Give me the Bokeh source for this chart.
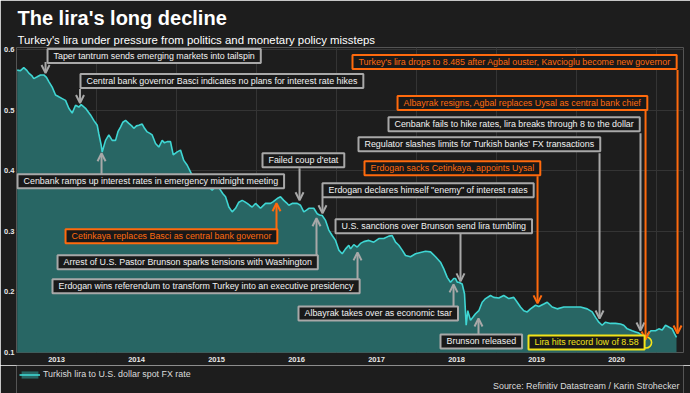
from bokeh.plotting import figure
from bokeh.layouts import column
from bokeh.models import (Range1d, FixedTicker, Label, Arrow, OpenHead, Title,
                          Legend, LegendItem)
from bokeh.embed import file_html
from bokeh.resources import INLINE

# ---------------- data ----------------
# decimal year, value of one Turkish lira in U.S. dollars
dates = [
    2013.009, 2013.050, 2013.091, 2013.125, 2013.154, 2013.190, 2013.216, 2013.259, 2013.300, 2013.341,
    2013.375, 2013.404, 2013.446, 2013.488, 2013.529, 2013.571, 2013.613, 2013.654, 2013.696, 2013.738,
    2013.779, 2013.809, 2013.863, 2013.925, 2013.966, 2014.009, 2014.029, 2014.059, 2014.071, 2014.113,
    2014.154, 2014.196, 2014.238, 2014.270, 2014.300, 2014.330, 2014.363, 2014.404, 2014.440, 2014.466,
    2014.500, 2014.529, 2014.571, 2014.600, 2014.634, 2014.663, 2014.696, 2014.738, 2014.779, 2014.821,
    2014.850, 2014.884, 2014.925, 2014.959, 2015.009, 2015.050, 2015.091, 2015.134, 2015.175, 2015.216,
    2015.250, 2015.279, 2015.321, 2015.350, 2015.384, 2015.413, 2015.446, 2015.475, 2015.509, 2015.550,
    2015.580, 2015.613, 2015.654, 2015.696, 2015.738, 2015.779, 2015.821, 2015.850, 2015.884, 2015.913,
    2015.946, 2015.988, 2016.020, 2016.050, 2016.080, 2016.113, 2016.140, 2016.175, 2016.210, 2016.238,
    2016.270, 2016.300, 2016.341, 2016.375, 2016.404, 2016.446, 2016.475, 2016.509, 2016.550, 2016.591,
    2016.625, 2016.654, 2016.688, 2016.716, 2016.759, 2016.788, 2016.821, 2016.863, 2016.904, 2016.946,
    2016.988, 2017.029, 2017.071, 2017.113, 2017.154, 2017.175, 2017.216, 2017.259, 2017.300, 2017.341,
    2017.404, 2017.466, 2017.529, 2017.591, 2017.654, 2017.696, 2017.738, 2017.779, 2017.821, 2017.863,
    2017.925, 2017.988, 2018.050, 2018.113, 2018.175, 2018.238, 2018.300, 2018.341, 2018.384, 2018.425,
    2018.466, 2018.488, 2018.509, 2018.529, 2018.571, 2018.600, 2018.621, 2018.641, 2018.675, 2018.704,
    2018.738, 2018.779, 2018.821, 2018.863, 2018.925, 2018.966, 2019.029, 2019.091, 2019.154, 2019.216,
    2019.259, 2019.300, 2019.341, 2019.384, 2019.425, 2019.488, 2019.529, 2019.591, 2019.634, 2019.696,
    2019.759, 2019.841, 2019.904, 2019.966, 2020.050, 2020.134, 2020.196, 2020.238, 2020.279, 2020.321,
    2020.363, 2020.425, 2020.488, 2020.550, 2020.591, 2020.634, 2020.696, 2020.738, 2020.779, 2020.821,
    2020.850, 2020.891, 2020.934, 2020.988, 2021.029, 2021.071, 2021.113, 2021.154, 2021.196, 2021.225,
    2021.250,
]
lira_usd = [
    0.566, 0.565, 0.570, 0.566, 0.561, 0.557, 0.552, 0.555, 0.558, 0.558,
    0.554, 0.547, 0.538, 0.525, 0.522, 0.519, 0.516, 0.503, 0.495, 0.508,
    0.505, 0.509, 0.503, 0.492, 0.483, 0.475, 0.461, 0.442, 0.431, 0.450,
    0.459, 0.450, 0.450, 0.465, 0.472, 0.480, 0.483, 0.478, 0.474, 0.470,
    0.474, 0.475, 0.477, 0.470, 0.464, 0.462, 0.459, 0.445, 0.439, 0.450,
    0.446, 0.448, 0.448, 0.426, 0.431, 0.434, 0.417, 0.409, 0.398, 0.387,
    0.380, 0.376, 0.373, 0.377, 0.379, 0.372, 0.368, 0.372, 0.376, 0.368,
    0.362, 0.357, 0.340, 0.332, 0.338, 0.348, 0.351, 0.349, 0.346, 0.343,
    0.340, 0.346, 0.342, 0.338, 0.342, 0.346, 0.346, 0.346, 0.349, 0.352,
    0.355, 0.357, 0.351, 0.347, 0.343, 0.346, 0.346, 0.346, 0.343, 0.332,
    0.335, 0.338, 0.338, 0.338, 0.329, 0.327, 0.326, 0.318, 0.302, 0.293,
    0.285, 0.269, 0.263, 0.271, 0.277, 0.271, 0.278, 0.274, 0.280, 0.283,
    0.285, 0.282, 0.288, 0.288, 0.292, 0.293, 0.282, 0.277, 0.269, 0.260,
    0.258, 0.263, 0.265, 0.267, 0.266, 0.258, 0.249, 0.238, 0.224, 0.216,
    0.222, 0.222, 0.216, 0.216, 0.213, 0.197, 0.145, 0.169, 0.153, 0.158,
    0.164, 0.169, 0.183, 0.189, 0.194, 0.191, 0.190, 0.194, 0.189, 0.191,
    0.183, 0.175, 0.169, 0.167, 0.172, 0.178, 0.176, 0.180, 0.183, 0.175,
    0.172, 0.175, 0.175, 0.175, 0.175, 0.172, 0.167, 0.158, 0.150, 0.145,
    0.150, 0.148, 0.148, 0.147, 0.145, 0.139, 0.136, 0.134, 0.132, 0.128,
    0.119, 0.131, 0.136, 0.136, 0.139, 0.137, 0.145, 0.142, 0.139, 0.131,
    0.125,
]

year_ticks = [2013.5, 2014.5, 2015.5, 2016.5, 2017.5, 2018.5, 2019.5, 2020.5]
year_labels = ["2013", "2014", "2015", "2016", "2017", "2018", "2019", "2020"]
year_bounds = [2013, 2014, 2015, 2016, 2017, 2018, 2019, 2020, 2021]
y_ticks = [0.1, 0.2, 0.3, 0.4, 0.5, 0.6]
y_labels = ["0.1", "0.2", "0.3", "0.4", "0.5", "0.6"]

record_low_date = [2020.87]
record_low_rate = [8.58]

title_text = "The lira's long decline"
subtitle_text = "Turkey's lira under pressure from politics and monetary policy missteps"
legend_text = "Turkish lira to U.S. dollar spot FX rate"
source_text = "Source: Refinitiv Datastream / Karin Strohecker"

# annotations: text, kind, box top-left (year, value), arrow x, arrow start/end values
ann_text = [
    "Taper tantrum sends emerging markets into tailspin",
    "Central bank governor Basci indicates no plans for interest rate hikes",
    "Cenbank ramps up interest rates in emergency midnight meeting",
    "Failed coup d'etat",
    "Erdogan declares himself \"enemy\" of interest rates",
    "U.S. sanctions over Brunson send lira tumbling",
    "Cetinkaya replaces Basci as central bank governor",
    "Arrest of U.S. Pastor Brunson sparks tensions with Washington",
    "Erdogan wins referendum to transform Turkey into an executive presidency",
    "Albayrak takes over as economic tsar",
    "Brunson released",
    "Erdogan sacks Cetinkaya, appoints Uysal",
    "Regulator slashes limits for Turkish banks' FX transactions",
    "Cenbank fails to hike rates, lira breaks through 8 to the dollar",
    "Albayrak resigns, Agbal replaces Uysal as central bank chief",
    "Turkey's lira drops to 8.485 after Agbal ouster, Kavcioglu become new governor",
]
ann_kind = ["g", "g", "g", "g", "g", "g", "o", "g", "g", "g", "g", "o", "g", "g", "o", "o"]
box_t = [2013.388, 2013.800, 2013.013, 2016.075, 2016.825, 2016.988, 2013.613, 2013.513,
         2013.450, 2016.525, 2018.300, 2017.350, 2017.275, 2017.650, 2017.763, 2017.200]
box_v = [0.6008, 0.5595, 0.3942, 0.4289, 0.3793, 0.3198, 0.3033, 0.2603,
         0.2207, 0.1760, 0.1298, 0.4157, 0.4554, 0.4884, 0.5231, 0.5909]
arr_t = [2013.363, 2013.794, 2014.063, 2016.538, 2016.825, 2018.550, 2016.250, 2016.750,
         2017.263, 2018.463, 2018.775, 2019.513, 2020.288, 2020.800, 2020.863, 2021.263]
arr_v0 = [0.5793, 0.5347, 0.3942, 0.4041, 0.3562, 0.2967, 0.3033, 0.2603,
          0.2207, 0.1760, 0.1298, 0.3909, 0.4289, 0.4620, 0.5000, 0.5661]
arr_v1 = [0.5612, 0.5116, 0.4289, 0.3512, 0.3298, 0.2174, 0.3463, 0.3215,
          0.2653, 0.2124, 0.1562, 0.1810, 0.1562, 0.1364, 0.1215, 0.1314]

record_text = "Lira hits record low of 8.58"
record_box = (2019.400, 0.1281)

# ---------------- style ----------------
BG = "#1d1d1d"
BOXBG = "#191919"
GRID = "#343434"
FILL = "#286664"
LINE = "#3fd6d3"
GRAY = "#a8a8a8"
ORANGE = "#ff6a0d"
YELLOW = "#f2e31a"
TXT = "#f2f2f2"
FONT = "Liberation Sans"
ANN_SIZE = "8.9px"

fig = figure(width=690, height=365, x_range=Range1d(2013.0, 2021.3375),
             y_range=Range1d(0.1, 0.6033), output_backend="svg", toolbar_location=None,
             background_fill_color=BG, border_fill_color=BG,
             min_border_left=16, min_border_right=7, min_border_top=47, min_border_bottom=13)
fig.outline_line_color = None

area = fig.varea(x=dates, y1=0.0, y2=lira_usd, fill_color=FILL, fill_alpha=1.0)
line = fig.line(x=dates, y=lira_usd, line_color=LINE, line_width=1.6)

# axes
fig.xaxis.ticker = FixedTicker(ticks=year_ticks)
fig.xaxis.major_label_overrides = {t: s for t, s in zip(year_ticks, year_labels)}
fig.yaxis.ticker = FixedTicker(ticks=y_ticks)
fig.yaxis.major_label_overrides = {t: s for t, s in zip(y_ticks, y_labels)}
for ax in (fig.xaxis, fig.yaxis):
    ax.axis_line_color = None
    ax.major_tick_line_color = None
    ax.minor_tick_line_color = None
    ax.major_tick_out = 0
    ax.major_tick_in = 0
    ax.major_label_text_font = FONT
    ax.major_label_text_font_size = "7.5px"
    ax.major_label_text_font_style = "bold"
    ax.major_label_text_color = "#e8e8e8"
fig.xaxis.major_label_standoff = 4
fig.yaxis.major_label_standoff = 2

fig.xgrid.ticker = FixedTicker(ticks=year_bounds)
fig.ygrid.ticker = FixedTicker(ticks=y_ticks)
fig.xgrid.grid_line_color = GRID
fig.ygrid.grid_line_color = GRID

# arrows
for i in range(len(ann_text)):
    c = ORANGE if ann_kind[i] == "o" else GRAY
    fig.add_layout(Arrow(end=OpenHead(size=8, line_color=c, line_width=2),
                         x_start=arr_t[i], y_start=arr_v0[i], x_end=arr_t[i], y_end=arr_v1[i],
                         line_color=c, line_width=2))

# record low circle
fig.scatter(x=record_low_date, y=[1.0 / r for r in record_low_rate], marker="circle", size=11,
            fill_alpha=0, line_color=YELLOW, line_width=1.6)

# annotation boxes
for i in range(len(ann_text)):
    c = ORANGE if ann_kind[i] == "o" else GRAY
    tc = ORANGE if ann_kind[i] == "o" else TXT
    fig.add_layout(Label(x=box_t[i], y=box_v[i], text=ann_text[i], anchor="top_left",
                         text_align="left", text_baseline="top",
                         text_font=FONT, text_font_size=ANN_SIZE, text_color=tc,
                         background_fill_color=BOXBG, border_line_color=c, border_line_width=2,
                         padding=(6, 2)))
fig.add_layout(Label(x=record_box[0], y=record_box[1], text=record_text, anchor="top_left",
                     text_align="left", text_baseline="top",
                     text_font=FONT, text_font_size=ANN_SIZE, text_color=YELLOW,
                     background_fill_color=BOXBG, border_line_color=YELLOW, border_line_width=2,
                     padding=(6, 2)))

# titles above
fig.add_layout(Title(text=subtitle_text, text_font=FONT, text_font_size="11.4px",
                     text_font_style="normal", text_color="#ffffff", offset=1, standoff=4), "above")
fig.add_layout(Title(text=title_text, text_font=FONT, text_font_size="20px",
                     text_font_style="bold", text_color="#ffffff", offset=1, standoff=2), "above")

# ---------------- footer strip: legend + source ----------------
foot = figure(width=690, height=28, x_range=Range1d(0, 1), y_range=Range1d(0, 1),
              x_axis_type=None, y_axis_type=None, output_backend="svg", toolbar_location=None,
              background_fill_color=BG, border_fill_color=BG,
              min_border_left=16, min_border_right=7, min_border_top=0, min_border_bottom=0)
foot.outline_line_color = None
foot.grid.visible = False
# same series, used only as the legend's swatch
f_area = foot.varea(x=dates, y1=0.0, y2=lira_usd, fill_color=FILL, visible=False)
f_line = foot.line(x=dates, y=lira_usd, line_color=LINE, line_width=1.6, visible=False)
legend = Legend(items=[LegendItem(label=legend_text, renderers=[f_area, f_line])],
                location=(3, 14), orientation="horizontal",
                background_fill_alpha=0, border_line_color=None,
                label_text_font=FONT, label_text_font_size=ANN_SIZE, label_text_color="#dcdcdc",
                glyph_width=21, glyph_height=9, label_height=9, padding=0, margin=0,
                label_standoff=3)
foot.add_layout(legend)
foot.add_layout(Label(x=663, y=3, x_units="screen", y_units="screen", text=source_text,
                      text_align="right", text_baseline="bottom", text_font=FONT,
                      text_font_size=ANN_SIZE, text_color="#dcdcdc"))

p = column(fig, foot, spacing=0)

open("out.html", "w").write(file_html(p, INLINE))
